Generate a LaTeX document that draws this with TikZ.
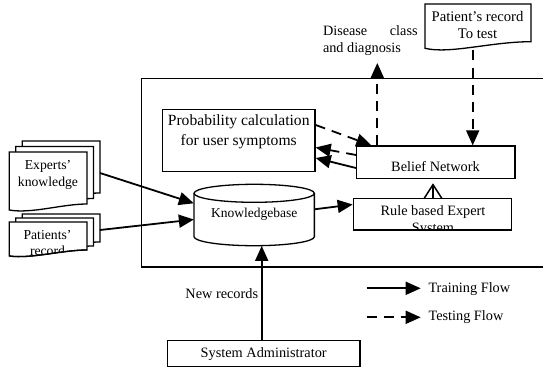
\documentclass[tikz,border=0pt]{standalone}
\usepackage{fontspec}
\setmainfont{Liberation Serif}
\usetikzlibrary{arrows.meta}
\begin{document}
\begin{tikzpicture}[x=1pt,y=-1pt,
  box/.style={draw,line width=1.3pt,inner sep=0pt},
  docst/.style={draw,fill=white,line width=1.3pt},
  fs/.style={font=\fontsize{14.3}{17.5}\selectfont,inner sep=0pt},
  tipst/.style={-{Triangle[length=15pt,width=13pt]}},
  train/.style={line width=1.8pt,tipst},
  test/.style={line width=1.8pt,dash pattern=on 10pt off 7pt,tipst},
  expdoc/.pic={\path[docst] (9.3,152) -- (87,152) -- (87,204) .. controls +(-25,0) and +(22,4) .. (9.3,210) -- cycle;},
  patdoc/.pic={\path[docst] (9.3,222) -- (87,222) -- (87,250) .. controls +(-25,0) and +(22,3) .. (9.3,256) -- cycle;},
]
\clip (0,0) rectangle (543,369);
% frame
\draw[line width=1.3pt] (141.5,78.3) rectangle (560,267);
% probability box
\node[box,minimum width=152.7pt,minimum height=62.4pt] (prob) at (238.7,140.5) {};
\node[fs,font=\fontsize{15.6}{19.3}\selectfont,align=center,anchor=base] (probtxt) at (238.7,145) {Probability calculation\\for user symptoms};
% belief network
\node[box,minimum width=158.3pt,minimum height=32.3pt] (bn) at (435.8,162.15) {};
\node[fs,anchor=base] (bntxt) at (435.5,171.5) {Belief Network};
% rule based
\node[box,minimum width=158.4pt,minimum height=31.7pt] (rule) at (432.5,214.15) {};
\begin{scope}
\clip (rule.north west) rectangle (rule.south east);
\node[fs,align=center,anchor=base] (ruletxt) at (433,232.5) {Rule based Expert\\System};
\end{scope}
% knowledgebase cylinder
\node[minimum width=120.3pt,minimum height=61.4pt,inner sep=0pt] (kb) at (254.2,215) {};
\draw[line width=1.3pt] (254.2,193.3) ellipse [x radius=60.15pt, y radius=9pt];
\draw[line width=1.3pt] (194.05,193.3) -- (194.05,236.7) .. controls (194.05,241.67) and (220.98,245.7) .. (254.2,245.7) .. controls (287.42,245.7) and (314.35,241.67) .. (314.35,236.7) -- (314.35,193.3);
\node[font=\fontsize{13.5}{16}\selectfont,inner sep=0pt,anchor=base] (kbtxt) at (254.3,217.7) {Knowledgebase};
% experts' knowledge stack
\pic at (13,-11) {expdoc};
\pic at (6.5,-5.5) {expdoc};
\pic at (0,0) {expdoc};
\node[font=\fontsize{13.7}{16.7}\selectfont,align=center,anchor=base,inner sep=0pt] (exptxt) at (48,186) {Experts’\\knowledge};
% patients' record stack
\pic at (13,-8) {patdoc};
\pic at (6.5,-4) {patdoc};
\pic at (0,0) {patdoc};
\begin{scope}
\clip (9.3,222) -- (87,222) -- (87,250) .. controls +(-25,0) and +(22,3) .. (9.3,256) -- cycle;
\node[font=\fontsize{13.7}{16.7}\selectfont,align=center,anchor=base,inner sep=0pt] (pattxt) at (47.5,255.7) {Patients’\\record};
\end{scope}
\draw[line width=1.3pt] (87,250) .. controls +(-25,0) and +(22,3) .. (9.3,256);
% patient's record to test
\path[docst] (425,4) -- (531,4) -- (531,41.7) .. controls +(-40,0) and +(25,6) .. (425,48.3) -- cycle;
\node[font=\fontsize{14.7}{17.3}\selectfont,align=center,anchor=base,inner sep=0pt] (testtxt) at (477.5,39) {Patient’s record\\To test};
% disease label
\node[font=\fontsize{14.25}{16.6}\selectfont,align=left,anchor=base west,inner sep=0pt] (dis) at (322.8,52.6) {\makebox[94.6pt][s]{Disease class}\\and diagnosis};
% system administrator
\node[box,fs,minimum width=192.7pt,minimum height=26pt] (admin) at (263.7,353.7) {System Administrator};
% labels
\node[fs,anchor=base east] (newrec) at (258.3,298.3) {New records};
\node[fs,anchor=base west] (lgtrain) at (428.3,292.7) {Training Flow};
\node[fs,anchor=base west] (lgtest) at (428.3,320.7) {Testing Flow};
% coordinates
\coordinate (expR) at (100,173);
\coordinate (patR) at (100,230);
\coordinate (testB) at (472.7,50.5);
\coordinate (disTip) at (377.3,63);
\coordinate (lgA1) at (366.7,288.3);
\coordinate (lgA2) at (420.7,288.3);
\coordinate (lgB1) at (366.7,317.3);
\coordinate (lgB2) at (420.7,317.3);
% connectors
\draw[train] (expR) -- ([yshift=11.7pt]kb.west);
\draw[train] (patR) -- ([yshift=-4.5pt]kb.west);
\draw[train] ([yshift=5.7pt]kb.east) -- ([yshift=9.65pt]rule.west);
\draw[train] ([xshift=-2pt]admin.north) -- ([xshift=7.5pt]kb.south);
\draw[line width=1.5pt,-{Straight Barb[length=14pt,width=18pt]}] ([xshift=0.5pt]rule.north) -- ([xshift=-2.8pt,yshift=-4.3pt]bn.south);
\draw[train] ([yshift=-5.85pt]bn.west) -- ([yshift=-17.5pt]prob.east);
\draw[test] ([yshift=7.15pt]bn.west) -- ([yshift=-7pt]prob.east);
\draw[test] ([yshift=15.5pt]prob.east) -- ([xshift=15.3pt]bn.north west);
\draw[test] ([xshift=-58.5pt]bn.north) -- (disTip);
\draw[test] (testB) -- ([xshift=36.9pt]bn.north);
\draw[train] (lgA1) -- (lgA2);
\draw[test] (lgB1) -- (lgB2);
\end{tikzpicture}
\end{document}
